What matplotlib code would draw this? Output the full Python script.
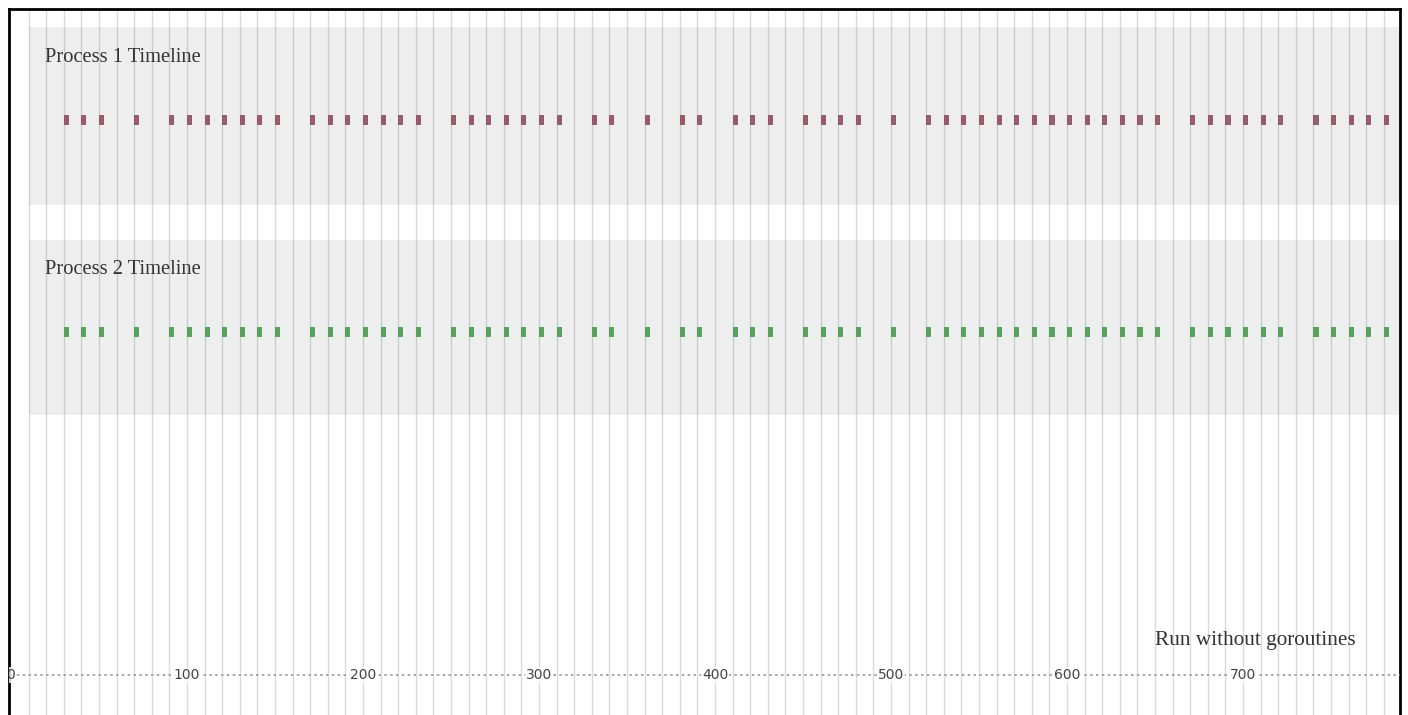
import numpy as np
import matplotlib
matplotlib.use("Agg")
import matplotlib.pyplot as plt

# event times (same pattern for both processes)
p1_times = [30, 40, 50, 70, 90, 100, 110, 120, 130, 140, 150,
            170, 180, 190, 200, 210, 220, 230,
            250, 260, 270, 280, 290, 300, 310,
            330, 340, 360, 380, 390, 410, 420, 430,
            450, 460, 470, 480, 500,
            520, 530, 540, 550, 560, 570, 580, 590, 600, 610, 620, 630, 640, 650,
            670, 680, 690, 700, 710, 720,
            740, 750, 760, 770, 780]
p2_times = list(p1_times)

lane_names = ["Process 1 Timeline", "Process 2 Timeline"]
lane_colors = ["#965c6a", "#58a35c"]
tick_values = [0, 100, 200, 300, 400, 500, 600, 700]
grid_values = np.arange(10, 800, 10)
caption = "Run without goroutines"

W, H = 1408, 715
fig = plt.figure(figsize=(W / 100, H / 100), dpi=100)
fig.patch.set_facecolor("white")

left_px, right_px, top_px = 8.5, 1400, 9
ax = fig.add_axes([left_px / W, 0, (right_px - left_px) / W, (H - top_px) / H])
ax.set_xlim(-1.4, 789.2)
ax.set_ylim(H, top_px)   # y in pixel rows, top down
ax.set_xticks([])
ax.set_yticks([])
for side in ["top", "left", "right"]:
    ax.spines[side].set_linewidth(2)
    ax.spines[side].set_color("black")
ax.spines["bottom"].set_visible(False)

# lane layout: band (top, bottom), marker row center, label row
bands = [(27, 205), (240, 415)]
rows = [120, 332]
label_rows = [57, 269]

for (b0, b1) in bands:
    ax.fill_between([10, 790], b0, b1, color="#eeeeee", lw=0, zorder=1)

ax.vlines(grid_values, top_px, H, color="black", alpha=0.14, lw=1, zorder=2)

for times, color, yc, name, ly in zip([p1_times, p2_times], lane_colors, rows,
                                       lane_names, label_rows):
    ax.bar(times, 10, bottom=yc - 5, width=2.9, align="edge",
           color=color, lw=0, zorder=3)
    ax.text(19.5, ly, name, family="Liberation Serif", fontsize=14.8,
            color="#333333", va="center", ha="left", zorder=4)

# axis line with tick labels
axis_y = 675
ax.hlines(axis_y, 0, 790, color="#999999", lw=1.2, linestyles=(0, (1.5, 2)), zorder=3)
for v in tick_values:
    ax.text(v, axis_y, str(v), fontsize=10, color="#444444", ha="center",
            va="center", zorder=4, clip_on=True,
            bbox=dict(facecolor="white", edgecolor="none", pad=0.5, alpha=0.8))

ax.text(650, 640, caption, family="Liberation Serif", fontsize=15.3,
        color="#333333", va="center", ha="left", zorder=4)

fig.savefig("out.png", dpi=100)
